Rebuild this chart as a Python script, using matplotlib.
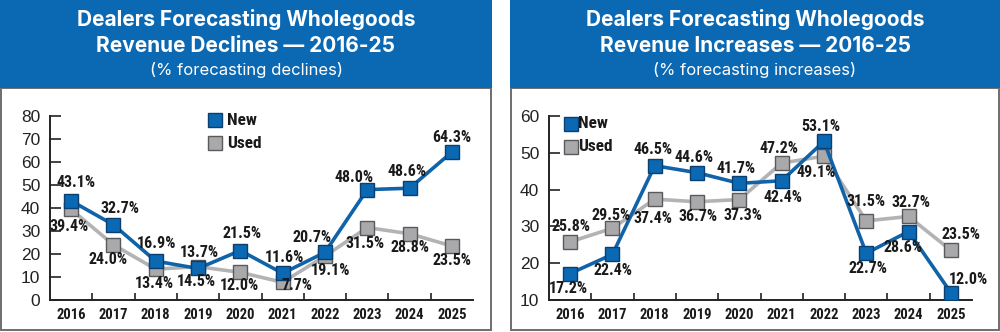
import matplotlib
matplotlib.use('Agg')
import matplotlib.pyplot as plt
from matplotlib.patches import Rectangle

# data
years = ['2016', '2017', '2018', '2019', '2020', '2021', '2022', '2023', '2024', '2025']
decl_new = [43.1, 32.7, 16.9, 13.7, 21.5, 11.6, 20.7, 48.0, 48.6, 64.3]
decl_used = [39.4, 24.0, 13.4, 14.5, 12.0, 7.7, 19.1, 31.5, 28.8, 23.5]
incr_new = [17.2, 22.4, 46.5, 44.6, 41.7, 42.4, 53.1, 22.7, 28.6, 12.0]
incr_used = [25.8, 29.5, 37.4, 36.7, 37.3, 47.2, 49.1, 31.5, 32.7, 23.5]

# label offsets in pixels (dx, dy up positive)
decl_new_off = [(5, 18), (7, 16), (1, 18), (1, 16), (2, 17), (2, 16), (-13, 15), (-13, 12), (-2, 17), (0, 15)]
decl_used_off = [(-2, -17), (-5, -15), (-1, -14), (-2, -15), (-1, -13), (14, -3), (6, -14), (-2, -16), (0, -14), (0, -15)]
incr_new_off = [(-2, -15), (1, -16), (-2, 16), (-3, 15), (-3, 15), (1, -17), (-3, 15), (2, -15), (-5, -16), (18, 13)]
incr_used_off = [(1, 15), (-1, 13), (-2, -19), (1, -15), (4, -16), (-3, 15), (-8, -16), (0, 19), (2, 14), (10, 16)]

BLUE = '#0b68b3'
BLUE_LINE = '#1063a8'
GRAY_LINE = '#b3b3b5'
GRAY_FACE = '#a9a9ab'
COND = ['Roboto Condensed', 'DejaVu Sans']
W, H = 1000, 332

fig = plt.figure(figsize=(10, 3.32), dpi=100)
fig.patch.set_facecolor('white')


def fx(px):
    return px / W


def fy(py):
    return 1 - py / H


def panel(x0, x1, title1, title2, sub):
    # frame
    fig.patches.append(Rectangle((fx(x0), fy(330)), fx(x1 - x0), (330 - 88) / H,
                                 transform=fig.transFigure, facecolor='none',
                                 edgecolor='#6e6e70', lw=1.4, zorder=0))
    # blue header
    fig.patches.append(Rectangle((fx(x0 - 1), fy(88)), fx(x1 - x0 + 2), 88 / H,
                                 transform=fig.transFigure, facecolor=BLUE,
                                 edgecolor='none', zorder=1))
    cx = fx((x0 + x1) / 2)
    fig.text(cx, fy(20), title1, color='white', fontsize=15, fontweight='bold',
             family='Inter', ha='center', va='center')
    fig.text(cx, fy(46), title2, color='white', fontsize=15, fontweight='bold',
             family='Inter', ha='center', va='center')
    fig.text(cx, fy(70), sub, color='white', fontsize=12, family='Inter',
             ha='center', va='center')


def chart(ax, new, used, new_off, used_off, ylim, yticks, leg_xy, leg_gap):
    x = list(range(len(years)))
    ax.plot(x, used, color=GRAY_LINE, lw=2.6, marker='s', ms=10,
            mfc=GRAY_FACE, mec='#5a5a5c', mew=1.0, zorder=3)
    ax.plot(x, new, color=BLUE_LINE, lw=2.6, marker='s', ms=10,
            mfc=BLUE, mec='#0a3f70', mew=1.0, zorder=4)
    for vals, offs in [(new, new_off), (used, used_off)]:
        for xi, v, (dx, dy) in zip(x, vals, offs):
            ax.annotate(f'{v:.1f}%', (xi, v), xytext=(dx * 0.72, dy * 0.72),
                        textcoords='offset points', ha='center', va='center',
                        fontsize=11.5, fontweight='bold', family=COND,
                        color='#1a1a1a', zorder=6)
    ax.set_xlim(-0.5, len(years) - 0.5)
    ax.set_ylim(*ylim)
    ax.set_yticks(yticks)
    ax.set_xticks(x)
    ax.set_xticklabels(years, fontsize=10.5, fontweight='bold',
                       family=COND, color='#1a1a1a')
    ax.set_xticks([i + 0.5 for i in x[:-1]], minor=True)
    ax.tick_params(axis='x', which='major', length=0, pad=6)
    ax.tick_params(axis='x', which='minor', direction='in', length=5, width=1.2, color='#222')
    ax.tick_params(axis='y', direction='in', length=8, width=1.2, color='#222',
                   labelsize=12.5, pad=7, labelcolor='#222')
    for lab in ax.get_yticklabels():
        lab.set_family('Liberation Sans')
    for s in ['top', 'right']:
        ax.spines[s].set_visible(False)
    for s in ['left', 'bottom']:
        ax.spines[s].set_linewidth(1.4)
        ax.spines[s].set_color('#222')
    ax.patch.set_alpha(0)
    ax.set_zorder(3)
    # legend: square marker + bold text
    lx, ly = leg_xy
    for i, (lab, fc, ec) in enumerate([('New', BLUE, '#0a3f70'), ('Used', GRAY_FACE, '#5a5a5c')]):
        yy = ly + i * 23
        fig.lines.append(plt.Line2D([fx(lx)], [fy(yy)], marker='s', ms=10, mfc=fc,
                                    mec=ec, mew=1.0, transform=fig.transFigure))
        fig.text(fx(lx + leg_gap), fy(yy), lab, fontsize=12.5, fontweight='bold',
                 family=COND, color='#1a1a1a', va='center', ha='left')


panel(1, 491, 'Dealers Forecasting Wholegoods', 'Revenue Declines \u2014 2016-25',
      '(% forecasting declines)')
panel(511, 999, 'Dealers Forecasting Wholegoods', 'Revenue Increases \u2014 2016-25',
      '(% forecasting increases)')

ax1 = fig.add_axes([fx(50), fy(300), fx(423), (300 - 116) / H])
chart(ax1, decl_new, decl_used, decl_new_off, decl_used_off, (0, 80),
      range(0, 81, 10), (215, 120), 12)
ax2 = fig.add_axes([fx(549), fy(300), fx(423), (300 - 116) / H])
chart(ax2, incr_new, incr_used, incr_new_off, incr_used_off, (10, 60),
      range(10, 61, 10), (571, 124), 7)

fig.savefig('out.png', dpi=100)
